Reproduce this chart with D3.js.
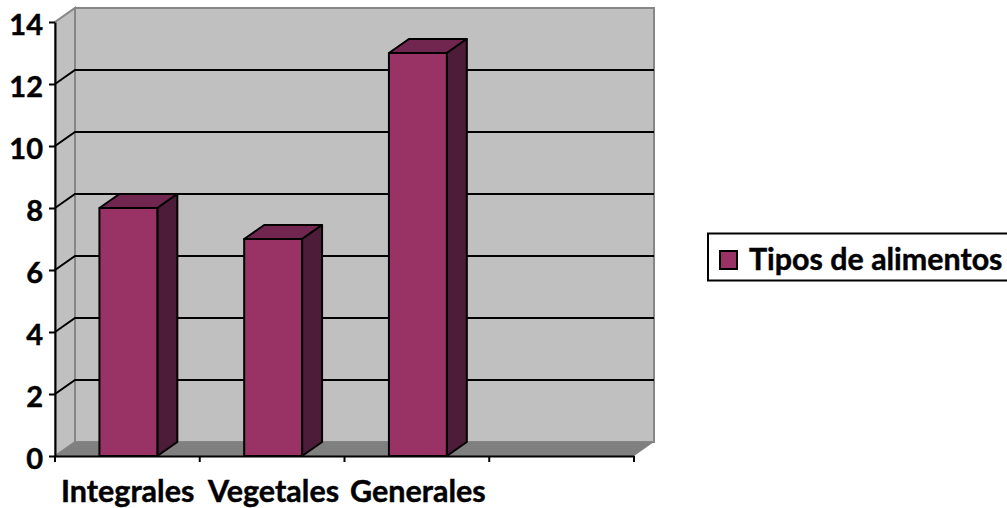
<!DOCTYPE html>
<html><head><meta charset="utf-8">
<script src="https://cdn.jsdelivr.net/npm/d3@7"></script>
<style>html,body{margin:0;padding:0;background:#fff}svg{display:block}text{font-family:Lato,"Open Sans",sans-serif;font-weight:700;fill:#000;stroke:#000;stroke-width:.45px}</style>
</head><body><svg id="c" width="1007" height="508"></svg>
<script>
const categories = ["Integrales","Vegetales","Generales",""];
const values = [8,7,13];
const seriesName = "Tipos de alimentos";
const yTicks = [0,2,4,6,8,10,12,14];
const svg = d3.select("#c");
const dx = 20, dy = -14;
const x = d3.scaleBand().domain(categories).range([56,635]).paddingInner(0.6).paddingOuter(0.3);
const band = d3.scaleBand().domain(categories).range([55,634]);
const y = d3.scaleLinear().domain([0,14]).range([456,22]);
const poly = p => p.map(d=>d.join(",")).join(" ");
const x0=55,x1=634,y0=y(0),yT=y(14);
svg.append("polygon").attr("points",poly([[x0+dx,y0+dy],[x1+dx,y0+dy],[x1+dx,yT+dy],[x0+dx,yT+dy]])).attr("fill","#c0c0c0").attr("stroke","#868686").attr("stroke-width",2);
svg.append("polygon").attr("points",poly([[x0,y0],[x0+dx,y0+dy],[x0+dx,yT+dy],[x0,yT]])).attr("fill","#c0c0c0").attr("stroke","#868686").attr("stroke-width",2);
svg.append("polygon").attr("points",poly([[x0,y0],[x1,y0],[x1+dx,y0+dy],[x0+dx,y0+dy]])).attr("fill","#808080");
const gridVals = yTicks.slice(1,-1);
svg.selectAll("path.grid").data(gridVals).join("path").attr("class","grid")
  .attr("d",v=>`M${x0},${y(v)}L${x0+dx},${y(v)+dy}L${x1+dx},${y(v)+dy}`).attr("fill","none").attr("stroke","#000").attr("stroke-width",2);
const bars = svg.selectAll("g.bar").data(values).join("g").attr("class","bar");
const X = (d,i)=>x(categories[i]);
const W = x.bandwidth();
bars.append("polygon").attr("points",(d,i)=>poly([[X(d,i),y(d)],[X(d,i)+W,y(d)],[X(d,i)+W+dx,y(d)+dy],[X(d,i)+dx,y(d)+dy]])).attr("fill","#70264f");
bars.append("polygon").attr("points",(d,i)=>poly([[X(d,i)+W,y(d)],[X(d,i)+W+dx,y(d)+dy],[X(d,i)+W+dx,y0+dy],[X(d,i)+W,y0]])).attr("fill","#4d1c38");
bars.append("rect").attr("x",X).attr("y",d=>y(d)).attr("width",W).attr("height",d=>y0-y(d)).attr("fill","#993366");
bars.selectAll("polygon,rect").attr("stroke","#000").attr("stroke-width",2).attr("stroke-linejoin","round");
const ay = svg.append("g").attr("transform",`translate(${x0},0)`).call(d3.axisLeft(y).tickValues(yTicks).tickSize(6).tickSizeOuter(0).tickPadding(6));
ay.selectAll("path,line").attr("stroke","#000").attr("stroke-width",2);
ay.selectAll("text").attr("font-size",29).attr("dy","0.42em").attr("fill","#000").style("font-family","Lato").style("font-weight",700);
const ax = svg.append("g").attr("transform",`translate(0,${y0})`).call(d3.axisBottom(band).tickValues([]).tickSizeOuter(0));
ax.selectAll("path").attr("stroke","#000").attr("stroke-width",2);
svg.selectAll("line.xt").data(d3.range(categories.length+1)).join("line").attr("class","xt")
  .attr("x1",i=>x0+i*band.step()).attr("x2",i=>x0+i*band.step()).attr("y1",y0).attr("y2",y0+6).attr("stroke","#000").attr("stroke-width",2);
svg.selectAll("text.cat").data(categories.filter(c=>c)).join("text").attr("class","cat")
  .attr("x",(c,i)=>[61,208,350][i]).attr("y",502).attr("font-size",30.5).text(c=>c);
const lg = svg.append("g");
lg.append("rect").attr("x",708).attr("y",233.5).attr("width",300).attr("height",47).attr("fill","#fff").attr("stroke","#000").attr("stroke-width",2);
lg.append("rect").attr("x",720).attr("y",251).attr("width",17).attr("height",18).attr("fill","#993366").attr("stroke","#000").attr("stroke-width",2);
lg.append("text").attr("x",749).attr("y",270).attr("font-size",30.4).text(seriesName);
</script></body></html>
